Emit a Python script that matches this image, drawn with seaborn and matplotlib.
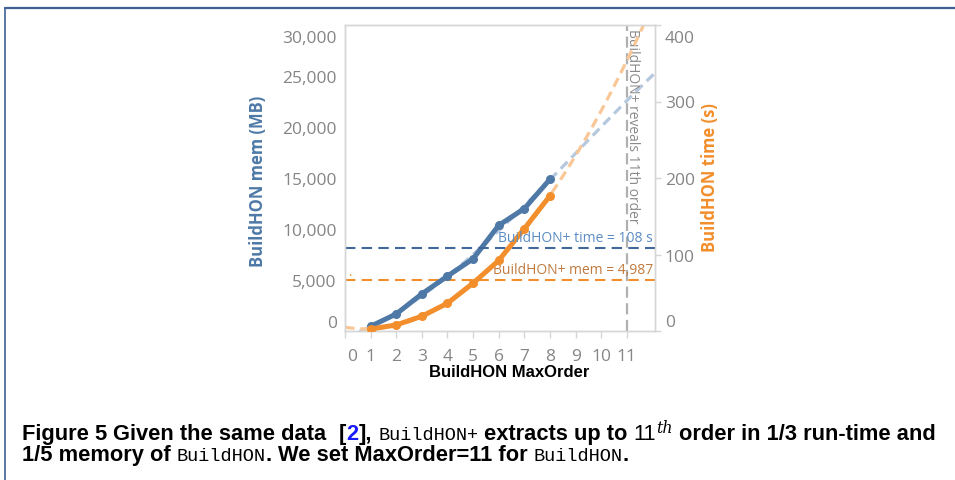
import matplotlib
matplotlib.use("Agg")
import matplotlib.pyplot as plt
import seaborn as sns
import pandas as pd
from matplotlib import font_manager
from matplotlib.transforms import ScaledTranslation
from matplotlib.lines import Line2D

# ---------------- data ----------------
orders = [1, 2, 3, 4, 5, 6, 7, 8]
mem_mb = [460, 1670, 3640, 5380, 7080, 10360, 12000, 14880]
time_s = [2.6, 7.9, 19.3, 36.3, 62.6, 92.2, 133.8, 176.7]
x_ticks = list(range(0, 12))
mem_ticks = [0, 5000, 10000, 15000, 20000, 25000, 30000]
time_ticks = [0, 100, 200, 300, 400]
plus_time = 108
plus_mem = 4987
reveal_order = 11

BLUE = "#4e79a7"
ORANGE = "#f28e2b"
BLUE_LIGHT = "#b5c8de"
ORANGE_LIGHT = "#f9c796"
GRID = "#d6d6d6"
TICKC = "#858585"

sns.set_theme(style="white")
avail = {f.name for f in font_manager.fontManager.ttflist}


def pick(*names):
    for n in names:
        if n in avail:
            return n
    return "DejaVu Sans"


TAB = pick("Open Sans", "Lato", "DejaVu Sans")
ARIAL = pick("Liberation Sans", "DejaVu Sans")
MONO = pick("Liberation Mono", "DejaVu Sans Mono")
SERIF = pick("DejaVu Serif", "Liberation Serif")
plt.rcParams['font.family'] = [TAB, 'DejaVu Sans']

W, H = 955, 481
fig = plt.figure(figsize=(W / 100, H / 100), dpi=100)
fig.patch.set_facecolor("white")
L, R, T, B = 345, 655, 26, 332
ax = fig.add_axes([L / W, 1 - B / H, (R - L) / W, (B - T) / H])
ax.set_facecolor("white")
ax2 = ax.twinx()
ax.set_xlim(0, 12.1)
ax.set_ylim(0, 30000)
ax2.set_ylim(0, 400)

df = pd.DataFrame({"order": orders, "mem": mem_mb, "time": time_s})

# trend lines (polynomial fits drawn by seaborn)
sns.regplot(data=df, x="order", y="mem", order=3, ci=None, scatter=False,
            truncate=False, ax=ax,
            line_kws=dict(color=BLUE_LIGHT, lw=2.3, ls=(0, (3, 1.8)), zorder=1))
sns.regplot(data=df, x="order", y="time", order=3, ci=None, scatter=False,
            truncate=False, ax=ax2,
            line_kws=dict(color=ORANGE_LIGHT, lw=2.3, ls=(0, (3, 1.8)), zorder=1))

# reference lines
ax.axvline(reveal_order, color="#b0b0b0", lw=1.6, ls=(0, (5, 2.5)), zorder=1)
ax.axhline(plus_mem, color=ORANGE, lw=1.5, ls=(0, (5, 3)), zorder=2)
ax2.axhline(plus_time, color="#41689a", lw=1.5, ls=(0, (5, 3)), zorder=2)

# data lines
sns.lineplot(data=df, x="order", y="mem", ax=ax, color=BLUE, lw=3.6,
             marker="o", markersize=6.5, markeredgewidth=0, zorder=3)
sns.lineplot(data=df, x="order", y="time", ax=ax2, color=ORANGE, lw=3.6,
             marker="o", markersize=6.5, markeredgewidth=0, zorder=3)

ax.set_xlim(0, 12.1)
ax.set_ylim(0, 30000)
ax2.set_ylim(0, 400)
ax.set_xlabel("")
ax.set_ylabel("")
ax2.set_ylabel("")

# annotations
ax2.annotate("BuildHON+ time = 108 s", xy=(12.02, plus_time), xytext=(0, 2.5),
             textcoords="offset points", ha="right", va="bottom",
             color="#5b8cc2", fontsize=10)
ax.annotate("BuildHON+ mem = 4,987", xy=(12.02, plus_mem), xytext=(0, 2.5),
            textcoords="offset points", ha="right", va="bottom",
            color="#c07a3e", fontsize=10)
ax.text(11.24, 0.99, "BuildHON+ reveals 11th order", rotation=-90,
        transform=ax.get_xaxis_transform(), ha="center", va="top",
        color="#8a8a8a", fontsize=10)
ax.text(0.12, 5450, ".", color=ORANGE, fontsize=9, ha="left", va="baseline")

# spines
for a in (ax, ax2):
    for s in a.spines.values():
        s.set_visible(True)
        s.set_color(GRID)
        s.set_linewidth(1.0)

# ticks
TFS = 12.5
ax.set_xticks(x_ticks)
ax.set_xticklabels([str(v) for v in x_ticks])
ax.set_yticks(mem_ticks)
ax.set_yticklabels([f"{v:,}" for v in mem_ticks])
ax2.set_yticks(time_ticks)
ax2.set_yticklabels([str(v) for v in time_ticks])
ax.tick_params(axis="x", bottom=True, length=5, width=1, color=GRID,
               labelcolor=TICKC, labelsize=TFS, pad=7)
ax.tick_params(axis="y", left=False, right=False, length=0,
               labelcolor=TICKC, labelsize=TFS, pad=6)
ax2.tick_params(axis="y", right=True, left=False, labelright=True,
                labelleft=False, length=4, width=1, color=GRID,
                labelcolor=TICKC, labelsize=TFS, pad=3)


def shift(label, dx, dy):
    label.set_transform(label.get_transform() +
                        ScaledTranslation(dx / 100, dy / 100, fig.dpi_scale_trans))


xl = ax.get_xticklabels()
shift(xl[0], 7, 0)
yl = ax.get_yticklabels()
shift(yl[0], 0, 10)
shift(yl[-1], 0, -11)
yr = ax2.get_yticklabels()
shift(yr[0], 0, 11)
shift(yr[-1], 0, -11)

# axis titles
fig.text(258 / W, 1 - 181 / H, "BuildHON mem (MB)", rotation=90, ha="center",
         va="center", color=BLUE, fontweight="bold", fontsize=12)
fig.text(710 / W, 1 - 178 / H, "BuildHON time (s)", rotation=90, ha="center",
         va="center", color=ORANGE, fontweight="bold", fontsize=12)
fig.text(509 / W, 1 - 373 / H, "BuildHON MaxOrder", ha="center", va="center",
         color="black", fontweight="bold", fontsize=12, family=ARIAL)

# frame of the figure box
fig.add_artist(Line2D([5 / W, 1], [1 - 9 / H, 1 - 9 / H], transform=fig.transFigure,
                      color="#3d6193", lw=1.6))
fig.add_artist(Line2D([5 / W, 5 / W], [0, 1 - 9 / H], transform=fig.transFigure,
                      color="#3d6193", lw=1.2))

# caption
renderer = fig.canvas.get_renderer()

BOLD = dict(family=ARIAL, fontweight="bold", color="black")
TT = dict(family=MONO, fontweight="normal", color="black")
REG = dict(family=ARIAL, fontweight="normal", color="black")
BLUEB = dict(family=ARIAL, fontweight="bold", color="#1a1aff")
SUP = dict(family=SERIF, style="italic", fontweight="normal", color="black")

# (text, font, spaces before, size scale, raise in px)
line1 = [("Figure 5", BOLD, 0, 1, 0), ("Given the same data", BOLD, 1, 1, 0),
         ("[", BOLD, 2, 1, 0), ("2", BLUEB, 0, 1, 0), ("],", BOLD, 0, 1, 0),
         ("BuildHON+", TT, 1, 0.85, 0), ("extracts up to", BOLD, 1, 1, 0),
         ("11", REG, 1, 1, 0), ("th", SUP, 0, 0.72, 7),
         ("order in 1/3 run-time and", BOLD, 1, 1, 0)]
line2 = [("1/5 memory of", BOLD, 0, 1, 0), ("BuildHON", TT, 1, 0.85, 0),
         (".", BOLD, 0, 1, 0), ("We set MaxOrder=11 for", BOLD, 1, 1, 0),
         ("BuildHON", TT, 1, 0.85, 0), (".", BOLD, 0, 1, 0)]


def space_w(fs):
    a = fig.text(0, 0, "x x", fontsize=fs, **BOLD)
    b = fig.text(0, 0, "xx", fontsize=fs, **BOLD)
    w = a.get_window_extent(renderer).width - b.get_window_extent(renderer).width
    a.remove()
    b.remove()
    return w


def layout(segs, x0, y, fs, draw=True):
    sw = space_w(fs)
    x = x0
    for text, kw, gaps, scale, raise_px in segs:
        x += gaps * sw
        t = fig.text(x / W, 1 - (y - raise_px) / H, text, fontsize=fs * scale,
                     ha="left", va="baseline", **kw)
        x += t.get_window_extent(renderer).width
        if not draw:
            t.remove()
    return x - x0


base_fs = 13.0
w1 = layout(line1, 22, 440, base_fs, draw=False)
fs = base_fs * 913.0 / w1
layout(line1, 22, 440, fs)
layout(line2, 22, 461, fs)

fig.savefig("out.png", dpi=100, facecolor="white")
